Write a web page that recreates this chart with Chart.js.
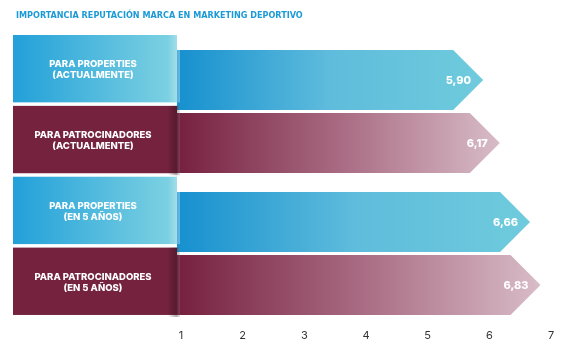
<!DOCTYPE html>
<html>
<head>
<meta charset="utf-8">
<script src="https://cdn.jsdelivr.net/npm/chart.js@4/dist/chart.umd.min.js"></script>
<style>
html,body{margin:0;padding:0;background:#fff;}
#wrap{width:565px;height:351px;}
</style>
</head>
<body>
<div id="wrap"><canvas id="c" width="565" height="351"></canvas></div>
<script>
// ---- data ----
const title = 'IMPORTANCIA REPUTACIÓN MARCA EN MARKETING DEPORTIVO';
const categories = ['(ACTUALMENTE)', '(EN 5 AÑOS)'];
const seriesNames = ['PARA PROPERTIES', 'PARA PATROCINADORES'];
const propertiesValues = [5.90, 6.66];
const patrocinadoresValues = [6.17, 6.83];
const tickValues = [1, 2, 3, 4, 5, 6, 7];

const seriesStyles = [
  {barFrom: '#1690cf', barMid: '#5fbcdc', barTo: '#6fcbdc', boxFrom: '#22a0d9', boxTo: '#80d3e2', solid: false},
  {barFrom: '#76203e', barMid: '#a86a82', barTo: '#d8bcc7', boxFrom: '#74223d', boxTo: '#74223d', solid: true}
];

const fmt = v => v.toFixed(2).replace('.', ',');

const arrowPlugin = {
  id: 'arrows',
  afterDatasetsDraw(chart) {
    const ctx = chart.ctx;
    const xs = chart.scales.x;
    const startPx = xs.getPixelForValue(xs.min);
    chart.data.datasets.forEach((ds, di) => {
      const meta = chart.getDatasetMeta(di);
      const st = seriesStyles[di];
      meta.data.forEach((el, i) => {
        const p = el.getProps(['x', 'y', 'base', 'height'], true);
        const h = p.height;
        const top = p.y - h / 2, bot = p.y + h / 2;
        const left = Math.max(p.base, startPx) - 4;
        const tip = p.x;
        const neck = tip - h / 2;
        const g = ctx.createLinearGradient(left, 0, tip, 0);
        g.addColorStop(0, st.barFrom);
        g.addColorStop(0.5, st.barMid);
        g.addColorStop(1, st.barTo);
        ctx.save();
        ctx.beginPath();
        ctx.moveTo(left, top);
        ctx.lineTo(neck, top);
        ctx.lineTo(tip, p.y);
        ctx.lineTo(neck, bot);
        ctx.lineTo(left, bot);
        ctx.closePath();
        ctx.fillStyle = g;
        ctx.fill();
        ctx.fillStyle = '#ffffff';
        ctx.font = '800 11px Inter, "Open Sans", sans-serif';
        ctx.textAlign = 'right';
        ctx.textBaseline = 'middle';
        ctx.fillText(fmt(ds.data[i]), tip - 12, p.y + 1);
        ctx.restore();
      });
    });
  },
  afterDraw(chart) {
    const ctx = chart.ctx;
    const area = chart.chartArea;
    const rows = [];
    categories.forEach((cat, ci) => {
      seriesNames.forEach((sn, si) => {
        const el = chart.getDatasetMeta(si).data[ci];
        rows.push({cat, sn, si, el});
      });
    });
    const lastEl = rows[rows.length - 1].el;
    const boxTop = area.top - 5.5;
    const boxBot = lastEl.y + lastEl.height / 2;
    const gap = 3.5;
    const n = rows.length;
    const bh = (boxBot - boxTop - gap * (n - 1)) / n;
    const bx0 = 13, bx1 = area.left - 4;
    rows.forEach((r, k) => {
      const st = seriesStyles[r.si];
      const y0 = boxTop + k * (bh + gap);
      ctx.save();
      const g = ctx.createLinearGradient(bx0, 0, bx1, 0);
      g.addColorStop(0, st.boxFrom);
      g.addColorStop(1, st.boxTo);
      ctx.fillStyle = g;
      ctx.fillRect(bx0, y0, bx1 - bx0, bh);
      const sg = ctx.createLinearGradient(bx1 - 9, 0, bx1 + 3, 0);
      if (st.solid) {
        sg.addColorStop(0, 'rgba(0,0,0,0)');
        sg.addColorStop(0.7, 'rgba(40,10,20,0.35)');
        sg.addColorStop(1, 'rgba(150,150,150,0.25)');
        ctx.fillStyle = sg;
        ctx.fillRect(bx1 - 9, y0, 12, bh + 2);
      } else {
        sg.addColorStop(0, 'rgba(255,255,255,0)');
        sg.addColorStop(1, 'rgba(255,255,255,0.35)');
        ctx.fillStyle = sg;
        ctx.fillRect(bx1 - 9, y0, 12, bh);
      }
      ctx.fillStyle = '#ffffff';
      ctx.font = '800 9.5px Inter, "Open Sans", sans-serif';
      ctx.textAlign = 'center';
      ctx.textBaseline = 'middle';
      const cx = (bx0 + bx1) / 2 - 2;
      const cy = y0 + bh / 2 + 1;
      ctx.fillText(r.sn, cx, cy - 5.5);
      ctx.fillText(r.cat, cx, cy + 5.5);
      ctx.restore();
    });
  }
};

new Chart(document.getElementById('c'), {
  type: 'bar',
  data: {
    labels: categories,
    datasets: [
      {label: seriesNames[0], data: propertiesValues, backgroundColor: 'rgba(0,0,0,0)', barPercentage: 0.952, categoryPercentage: 0.887},
      {label: seriesNames[1], data: patrocinadoresValues, backgroundColor: 'rgba(0,0,0,0)', barPercentage: 0.952, categoryPercentage: 0.887}
    ]
  },
  options: {
    indexAxis: 'y',
    responsive: false,
    animation: false,
    layout: {padding: {left: 16, right: 14, top: 0, bottom: 0}},
    plugins: {
      legend: {display: false},
      tooltip: {enabled: false},
      title: {
        display: true,
        text: title,
        align: 'start',
        color: '#1b9ad7',
        font: {family: '"Liberation Sans Narrow", "DejaVu Sans Condensed", sans-serif', size: 9, weight: 'bold', lineHeight: 1.2},
        padding: {top: 10, bottom: 19.7}
      }
    },
    scales: {
      x: {
        type: 'linear',
        min: 1,
        max: 7,
        afterBuildTicks: s => { s.ticks = tickValues.map(v => ({value: v})); },
        afterFit: s => { s.height = 26.5; },
        grid: {display: false, drawTicks: false},
        border: {display: false},
        ticks: {color: '#333333', padding: 5, font: {family: 'Inter, "Open Sans", sans-serif', size: 11}}
      },
      y: {
        type: 'category',
        afterFit: s => { s.width = 165; },
        grid: {display: false, drawTicks: false},
        border: {display: false},
        ticks: {display: false}
      }
    }
  },
  plugins: [arrowPlugin]
});
</script>
</body>
</html>
